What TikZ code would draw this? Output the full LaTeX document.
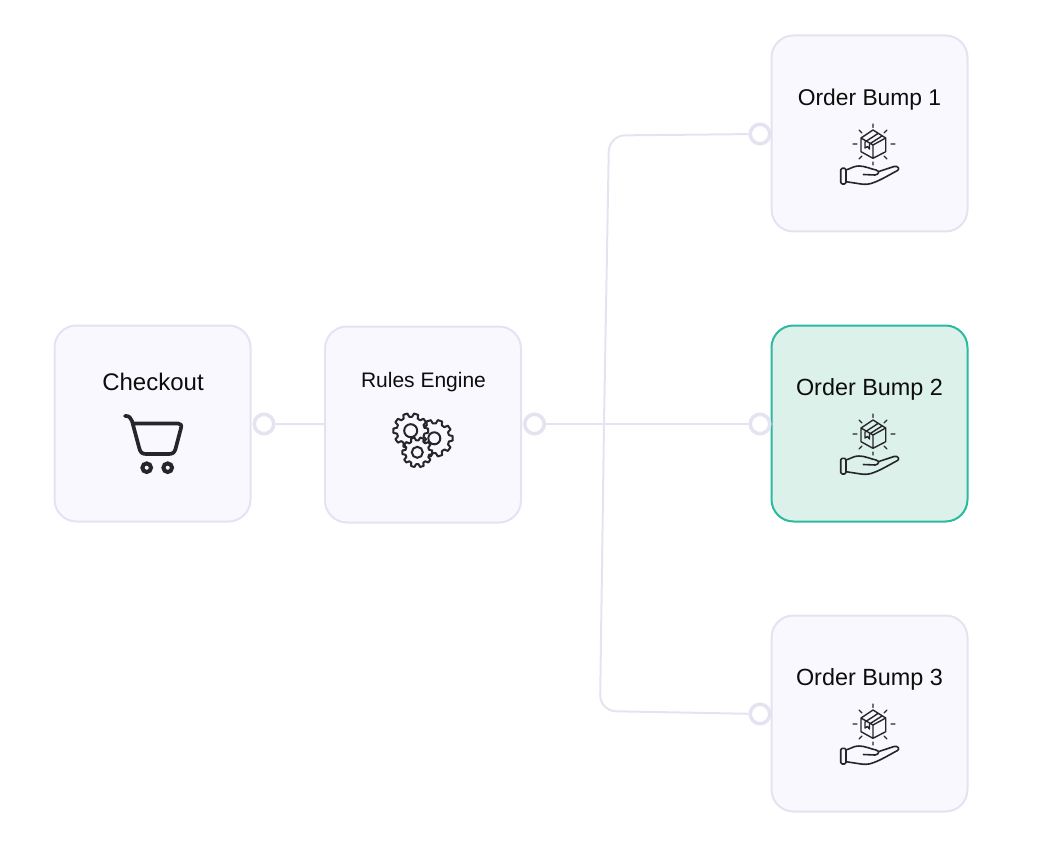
\documentclass[tikz,border=0pt]{standalone}
\usepackage{fontspec}
\setmainfont{Liberation Sans}
\definecolor{cardfill}{HTML}{F9F8FE}
\definecolor{cardline}{HTML}{E5E3F0}
\definecolor{tealfill}{HTML}{DCF1EA}
\definecolor{tealline}{HTML}{2CB9A1}
\definecolor{icondark}{HTML}{26262A}
\tikzset{
  cardbox/.style={draw=cardline,fill=cardfill,line width=2pt,rounded corners=22pt,minimum size=196pt,inner sep=0pt},
  tealbox/.style={cardbox,draw=tealline,fill=tealfill},
  port/.style={circle,draw=cardline,fill=white,line width=3.5pt,minimum size=19.5pt,inner sep=0pt},
  wire/.style={draw=cardline,line width=2pt},
  boxlabel/.style={font=\fontsize{23.4}{27}\selectfont,text=black!95,inner sep=0pt},
  pics/bumpicon/.style={code={
    \draw[icondark,line width=1.4pt,line join=round,line cap=round]
      (0,-15) -- (12.7,-7) -- (12.7,6.7) -- (0,13.3) -- (-12,6.7) -- (-12,-7) -- cycle
      (-12,-7) -- (0,0) -- (12.7,-7) (0,0) -- (0,13.3)
      (-8,-3) -- (5,-11.5) (-3.5,-1) -- (9,-9)
      (-8,-3) -- (-8,3) -- (-5.5,1.5) -- (-3.5,4) -- (-3.5,-1);
    \draw[icondark,line width=1.3pt,line cap=round]
      (0,-21) -- (0,-17.5) (0,17) -- (0,20)
      (-20,-1) -- (-16,-1) (18,-1) -- (22,-1)
      (-14,-15) -- (-11,-12) (14,-15) -- (11,-12)
      (-14,14) -- (-11,11) (14,14) -- (11,11);
    \draw[icondark,line width=1.6pt,line join=round,rounded corners=1.5pt]
      (-32.3,23.3) rectangle (-27,39);
    \draw[icondark,line width=1.6pt,line join=round,line cap=round]
      (-27,25) .. controls (-21,23) and (-19,21) .. (-14,21)
      .. controls (-8,21) and (-2,24) .. (3,25)
      .. controls (7,26) and (6,29.5) .. (2,30) -- (-9.7,29.5)
      (5.3,26.7) -- (21,21.5) .. controls (25,20.5) and (27,24) .. (24.5,25.5)
      .. controls (16,30) and (8,35) .. (.3,37.7)
      .. controls (-4,39.5) and (-8,39.5) .. (-12,39) -- (-27,36.7);
  }},
  pics/carticon/.style={code={
    \draw[icondark,line width=3.7pt,line join=round,line cap=round]
      (125,416) .. controls (129,415.5) and (131,418) .. (132,421)
      -- (139.5,449) .. controls (140.5,452.5) and (142.5,454) .. (146,454) -- (169,454)
      .. controls (172.5,454) and (174.5,452.5) .. (175.5,449) -- (181,428)
      .. controls (182,425) and (180.5,423.5) .. (178,423.5) -- (133.5,423.5);
    \draw[icondark,line width=4pt] (146.7,467.7) circle (4.3) (167.7,467.7) circle (4.3);
  }},
  pics/gearicon/.style n args={3}{code={
    \draw[icondark,fill=cardfill,line width=2pt,line join=round]
      (-12:#1) \foreach \t in {0,36,...,324} {
        -- (\t-12:#1) -- (\t-7:#2) -- (\t+7:#2) -- (\t+12:#1) -- (\t+24:#1)
      } -- cycle;
    \draw[icondark,line width=2pt] (0,0) circle (#3);
  }}
}
\begin{document}
\begin{tikzpicture}[x=1pt,y=-1pt]
\useasboundingbox (0,0) rectangle (1060,853);
\node[cardbox] (checkout) at (152.5,423.5) {};
\node[cardbox] (rules) at (423,424.5) {};
\node[cardbox] (bumpa) at (869.5,133.5) {};
\node[tealbox] (bumpb) at (869.5,423.5) {};
\node[cardbox] (bumpc) at (869.5,713.5) {};
\node[port] (checkoutport) at (264,424) {};
\node[port] (rulesport) at (534.5,424) {};
\node[port] (bumpaport) at (760,134) {};
\node[port] (bumpbport) at (760,424) {};
\node[port] (bumpcport) at (760,714) {};
\coordinate (busjoin) at (604,424);
\coordinate (buscornera) at (609,135.5);
\coordinate (buscornerc) at (600,711);
\draw[wire] (checkoutport) -- (rules);
\draw[wire] (rulesport) -- (bumpbport);
\draw[wire,rounded corners=16pt] (busjoin) -- (buscornera) -- (bumpaport);
\draw[wire,rounded corners=16pt] (busjoin) -- (buscornerc) -- (bumpcport);
\node[boxlabel,font=\fontsize{24}{28}\selectfont] (checkoutlabel) at (153,382) {Checkout};
\node[boxlabel,font=\fontsize{21}{25}\selectfont] (ruleslabel) at (423.5,382) {Rules Engine};
\node[boxlabel,font=\fontsize{22.8}{27}\selectfont] (bumpalabel) at (869.5,99.5) {Order Bump 1};
\node[boxlabel] (bumpblabel) at (869.5,389.5) {Order Bump 2};
\node[boxlabel] (bumpclabel) at (869.5,679.5) {Order Bump 3};
\pic at (0,0) {carticon};
\pic at (434.3,438.3) {gearicon={15}{18.5}{6}};
\pic at (410.7,430.7) {gearicon={14}{17.5}{6.5}};
\pic at (417.3,452.3) {gearicon={12}{15}{5.5}};
\pic at (873,145) {bumpicon};
\pic at (873,435) {bumpicon};
\pic at (873,725) {bumpicon};
\end{tikzpicture}
\end{document}
